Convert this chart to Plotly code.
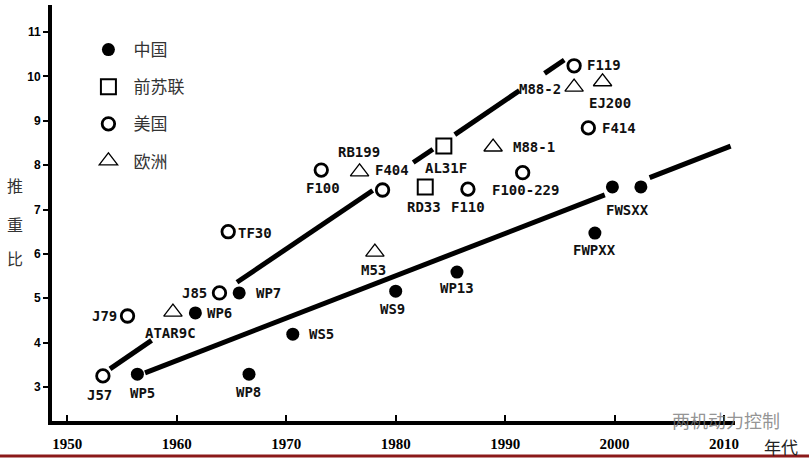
import plotly.graph_objects as go

# ---------------- data ----------------
china_names = ["WP5", "WP6", "WP7", "WP8", "WS5", "WS9", "WP13", "FWSXX", "", "FWPXX"]
china_years = [1956.4, 1961.7, 1965.7, 1966.6, 1970.6, 1980.0, 1985.6, 1999.8, 2002.4, 1998.2]
china_ratio = [3.29, 4.67, 5.12, 3.29, 4.19, 5.16, 5.59, 7.51, 7.51, 6.47]

ussr_names = ["AL31F", "RD33"]
ussr_years = [1984.4, 1982.7]
ussr_ratio = [8.43, 7.51]

usa_names = ["J57", "J79", "J85", "TF30", "F100", "F404", "F110", "F100-229", "F119", "F414"]
usa_years = [1953.25, 1955.5, 1963.9, 1964.7, 1973.2, 1978.8, 1986.6, 1991.6, 1996.3, 1997.6]
usa_ratio = [3.25, 4.60, 5.12, 6.50, 7.89, 7.44, 7.46, 7.83, 10.24, 8.84]

europe_names = ["ATAR9C", "RB199", "M53", "M88-1", "M88-2", "EJ200"]
europe_years = [1959.65, 1976.7, 1978.1, 1988.9, 1996.3, 1998.9]
europe_ratio = [4.69, 7.85, 6.04, 8.41, 9.76, 9.88]

# trend lines (broken segments, None = gap)
upper_years = [1953.9, 1957.7, None, 1965.5, 1977.9, None, 1981.6, 1983.4, None, 1985.4, 1991.3, None, 1993.6, 1995.4]
upper_ratio = [3.41, 4.05, None, 5.36, 7.43, None, 8.06, 8.36, None, 8.69, 9.68, None, 10.07, 10.37]
lower_years = [1957.1, 1999.1, None, 2003.2, 2010.6]
lower_ratio = [3.32, 7.33, None, 7.72, 8.43]

x_ticks = [1950, 1960, 1970, 1980, 1990, 2000, 2010]
y_ticks = [3, 4, 5, 6, 7, 8, 9, 10, 11]
series_names = ["中国", "前苏联", "美国", "欧洲"]
y_title_chars = ["推", "重", "比"]
x_title = "年代"
watermark = "两机动力控制"

# ---------------- styles ----------------
label_offsets = {  # (dx, dy) in px, dy positive = down
    "WP5": (5, 19), "WP6": (24, 0), "WP7": (29, 0), "WP8": (-1, 18), "WS5": (29, 0),
    "WS9": (-3, 18), "WP13": (0, 16), "FWSXX": (15, 23), "FWPXX": (0, 17),
    "AL31F": (2, 22), "RD33": (-1, 20),
    "J57": (-3, 19), "J79": (-23, 0), "J85": (-25, 0), "TF30": (27, 1), "F100": (2, 18),
    "F404": (9, -20), "F110": (0, 18), "F100-229": (3, 17), "F119": (30, -1), "F414": (31, 0),
    "ATAR9C": (-2, 21), "RB199": (-1, -20), "M53": (-1, 18), "M88-1": (41, 0),
    "M88-2": (-34, 2), "EJ200": (7, 21),
}

fig = go.Figure()

fig.add_trace(go.Scatter(x=upper_years, y=upper_ratio, mode="lines",
                         line=dict(color="black", width=5), showlegend=False, hoverinfo="skip"))
fig.add_trace(go.Scatter(x=lower_years, y=lower_ratio, mode="lines",
                         line=dict(color="black", width=5), showlegend=False, hoverinfo="skip"))

groups = [
    (series_names[0], china_names, china_years, china_ratio,
     dict(symbol="circle", size=13, color="black")),
    (series_names[1], ussr_names, ussr_years, ussr_ratio,
     dict(symbol="square-open", size=15, color="black", line=dict(width=2))),
    (series_names[2], usa_names, usa_years, usa_ratio,
     dict(symbol="circle-open", size=12.5, color="black", line=dict(width=2.8))),
    (series_names[3], europe_names, europe_years, europe_ratio,
     dict(symbol="triangle-up-open", size=16, color="black", line=dict(width=1.3))),
]

annotations = []
for gname, names, xs, ys, mk in groups:
    fig.add_trace(go.Scatter(x=xs, y=ys, mode="markers", name=gname, legendgroup=gname,
                             marker=mk, text=names, hoverinfo="text+x+y"))
    for n, xv, yv in zip(names, xs, ys):
        if not n:
            continue
        dx, dy = label_offsets.get(n, (0, 18))
        annotations.append(dict(x=xv, y=yv, xref="x", yref="y", text=n, showarrow=False,
                                xshift=dx, yshift=-dy, xanchor="center", yanchor="middle",
                                font=dict(family="DejaVu Sans Mono", size=14, color="#111",
                                          weight="bold")))

# y title characters
for ch, py in zip(y_title_chars, [0.567, 0.474, 0.392]):
    annotations.append(dict(x=-0.054, y=py, xref="paper", yref="paper", text=ch, showarrow=False,
                            xanchor="center", yanchor="middle",
                            font=dict(family="Noto Sans CJK SC", size=16, color="#333")))
annotations.append(dict(x=1.067, y=-0.062, xref="paper", yref="paper", text=x_title, showarrow=False,
                        xanchor="center", yanchor="middle",
                        font=dict(family="Noto Sans CJK SC", size=17, color="#222")))
annotations.append(dict(x=0.987, y=0.003, xref="paper", yref="paper", text=watermark, showarrow=False,
                        xanchor="center", yanchor="middle",
                        font=dict(family="Noto Sans CJK SC", size=18, color="rgba(120,120,120,0.8)")))

fig.update_layout(
    width=809, height=463,
    margin=dict(l=52, r=74, t=5, b=42),
    paper_bgcolor="white", plot_bgcolor="white",
    showlegend=True,
    legend=dict(x=0.046, y=0.935, xanchor="left", yanchor="top", traceorder="grouped",
                tracegroupgap=12, itemsizing="trace", itemwidth=40, bgcolor="rgba(0,0,0,0)",
                font=dict(family="Noto Sans CJK SC", size=17, color="#333")),
    annotations=annotations,
    shapes=[dict(type="line", xref="paper", yref="paper", x0=-0.08, x1=1.11, y0=-0.084, y1=-0.084,
                 line=dict(color="#8b1a1a", width=3))],
    xaxis=dict(range=[1948.6, 2011.0], tickvals=x_ticks, ticktext=[str(v) for v in x_ticks],
               showgrid=False, zeroline=False, showline=True, linecolor="black", linewidth=4,
               ticks="inside", ticklen=6, tickwidth=1.5, tickcolor="black", ticklabelstandoff=6,
               tickfont=dict(family="Liberation Serif", size=15, color="black", weight="bold")),
    yaxis=dict(range=[2.234, 11.61], tickvals=y_ticks, ticktext=[str(v) for v in y_ticks],
               showgrid=False, zeroline=False, showline=True, linecolor="black", linewidth=4,
               ticks="outside", ticklen=5, tickwidth=2, tickcolor="black",
               tickfont=dict(family="Liberation Sans", size=12, color="black", weight="bold")),
)

fig.write_html("out.html", config={"displayModeBar": False},
               post_script="document.body.style.margin='0';")
